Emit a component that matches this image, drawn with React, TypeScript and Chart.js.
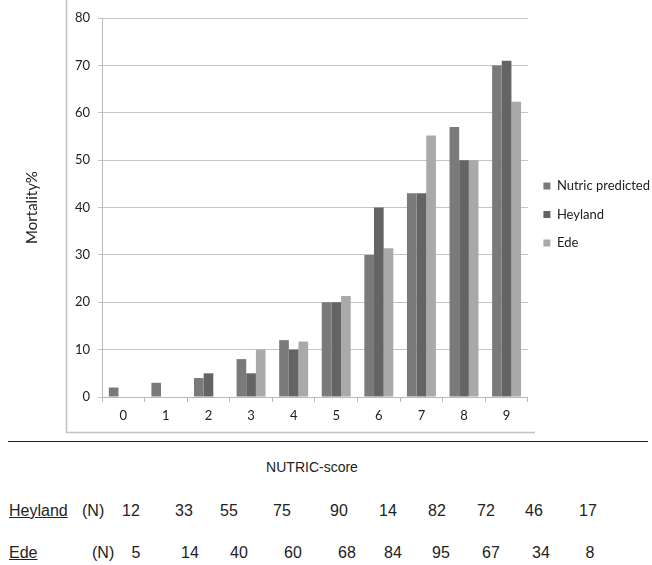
import React, { useEffect, useRef } from "react";
import { Chart, registerables } from "chart.js";

Chart.register(...registerables);

const categories = ["0", "1", "2", "3", "4", "5", "6", "7", "8", "9"];
const nutricPredicted = [2, 3, 4, 8, 12, 20, 30, 43, 57, 70];
const heyland = [null, null, 5, 5, 10, 20, 40, 43, 50, 71];
const ede = [null, null, null, 10, 11.7, 21.3, 31.4, 55.2, 50, 62.3];
const seriesNames = ["Nutric predicted", "Heyland", "Ede"];
const heylandN = [12, 33, 55, 75, 90, 14, 82, 72, 46, 17];
const edeN = [5, 14, 40, 60, 68, 84, 95, 67, 34, 8];

const heylandX = [131, 184, 229, 282, 339, 388, 437, 486, 534, 588];
const edeX = [136, 190, 239, 293, 347, 393, 441, 491, 541, 590];

const CHART_FONT = "Lato, 'Open Sans', sans-serif";
const TABLE_FONT = "'Liberation Sans', Arial, sans-serif";

const outerBox = {
  id: "outerBox",
  beforeDraw(chart: any) {
    const ctx = chart.ctx;
    ctx.save();
    ctx.strokeStyle = "#c2c2c2";
    ctx.lineWidth = 1.5;
    ctx.beginPath();
    ctx.moveTo(66.5, 0);
    ctx.lineTo(66.5, 432.5);
    ctx.lineTo(535, 432.5);
    ctx.stroke();
    ctx.restore();
  },
};

export default function App() {
  const ref = useRef<HTMLCanvasElement>(null);

  useEffect(() => {
    document.body.style.margin = "0";
    const chart = new Chart(ref.current as HTMLCanvasElement, {
      type: "bar",
      data: {
        labels: categories,
        datasets: [
          { label: seriesNames[0], data: nutricPredicted, backgroundColor: "#7a7a7a" },
          { label: seriesNames[1], data: heyland, backgroundColor: "#646464" },
          { label: seriesNames[2], data: ede, backgroundColor: "#a9a9a9" },
        ],
      },
      options: {
        responsive: false,
        animation: false,
        devicePixelRatio: 1,
        layout: { padding: { top: 18, right: -8, left: 0, bottom: 0 } },
        datasets: { bar: { categoryPercentage: 0.68, barPercentage: 1.0 } },
        plugins: {
          tooltip: { enabled: false },
          legend: {
            position: "right",
            fullSize: false,
            title: { display: true, text: "", padding: { top: 0, bottom: 2 }, font: { size: 10 } },
            labels: {
              boxWidth: 7,
              boxHeight: 7,
              padding: 15.5,
              color: "#222",
              font: { family: CHART_FONT, size: 13 },
            },
          },
        },
        scales: {
          x: {
            afterFit(scale: any) {
              scale.height = 43;
              scale.paddingLeft = 0;
              scale.paddingRight = 0;
            },
            grid: {
              offset: true,
              drawOnChartArea: false,
              drawTicks: true,
              tickLength: 5,
              color: "#b8b8b8",
            },
            border: { color: "#b8b8b8", width: 1 },
            ticks: {
              color: "#222",
              padding: 6,
              font: { family: CHART_FONT, size: 13 },
            },
          },
          y: {
            min: 0,
            max: 80,
            afterFit(scale: any) {
              scale.width = 102;
              scale.paddingTop = 0;
              scale.paddingBottom = 0;
            },
            ticks: {
              stepSize: 10,
              color: "#222",
              padding: 8,
              font: { family: CHART_FONT, size: 13 },
            },
            grid: { color: "#c4c4c4", tickLength: 4 },
            border: { color: "#b8b8b8", width: 1 },
            title: {
              display: true,
              text: "Mortality%",
              color: "#222",
              padding: { top: 23, bottom: 0 },
              font: { family: CHART_FONT, size: 15 },
            },
          },
        },
      },
      plugins: [outerBox],
    });
    return () => chart.destroy();
  }, []);

  const rowText: React.CSSProperties = {
    position: "absolute",
    fontFamily: TABLE_FONT,
    fontSize: 16,
    color: "#222",
    lineHeight: "18px",
    whiteSpace: "nowrap",
  };

  return (
    <div style={{ position: "relative", width: 652, height: 565, background: "#fff", overflow: "hidden" }}>
      <canvas ref={ref} width={652} height={440} style={{ position: "absolute", left: 0, top: 0 }} />
      <div style={{ position: "absolute", left: 8, top: 441, width: 640, height: 0, borderTop: "1.5px solid #222" }} />
      <div
        style={{
          position: "absolute",
          left: 212,
          width: 200,
          top: 459,
          textAlign: "center",
          fontFamily: TABLE_FONT,
          fontSize: 14,
          lineHeight: "16px",
          color: "#222",
        }}
      >
        NUTRIC-score
      </div>
      <div style={{ ...rowText, left: 9, top: 502, textDecoration: "underline" }}>Heyland</div>
      <div style={{ ...rowText, left: 82, top: 502 }}>(N)</div>
      {heylandN.map((v, i) => (
        <div key={"h" + i} style={{ ...rowText, left: heylandX[i] - 20, width: 40, textAlign: "center", top: 502 }}>
          {v}
        </div>
      ))}
      <div style={{ ...rowText, left: 9, top: 544, textDecoration: "underline" }}>Ede</div>
      <div style={{ ...rowText, left: 92, top: 544 }}>(N)</div>
      {edeN.map((v, i) => (
        <div key={"e" + i} style={{ ...rowText, left: edeX[i] - 20, width: 40, textAlign: "center", top: 544 }}>
          {v}
        </div>
      ))}
    </div>
  );
}
